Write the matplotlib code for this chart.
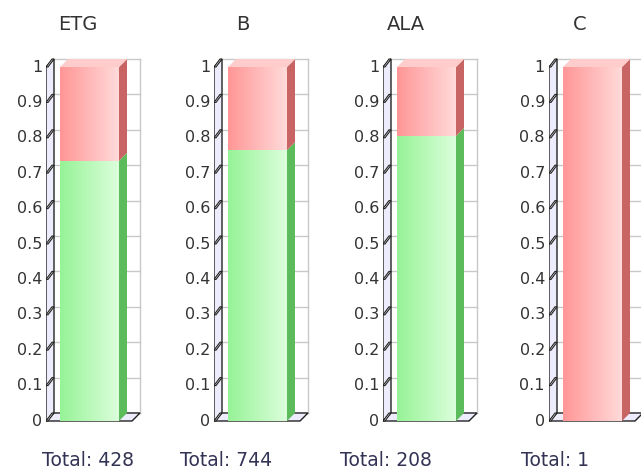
import numpy as np
import matplotlib
matplotlib.use('Agg')
import matplotlib.pyplot as plt
from matplotlib.patches import Polygon
from matplotlib.colors import LinearSegmentedColormap

# data
groups = ['ETG', 'B', 'ALA', 'C']
totals = [428, 744, 208, 1]
green_share = [0.735, 0.765, 0.805, 0.0]
red_share = [1 - g for g in green_share]
ticks = [0, 0.1, 0.2, 0.3, 0.4, 0.5, 0.6, 0.7, 0.8, 0.9, 1]
tick_labels = ['0', '0.1', '0.2', '0.3', '0.4', '0.5', '0.6', '0.7', '0.8', '0.9', '1']

# layout (pixels)
W_PX, H_PX = 641, 469
axis_left = [46, 214, 383, 549]
title_x = [78, 243, 406, 580]
total_x = [88, 226, 386, 555]
px_per_unit = 354.0
zero_px = 421.0
DX = 8                      # depth in x (px units)
DY = 8 / px_per_unit        # depth in y (data units)
WALL = 94
BAR_X0, BAR_W = 14, 59
YMIN, YMAX = -0.03, 1.07

green_cmap = LinearSegmentedColormap.from_list('g', ['#96f396', '#dcfedc'])
red_cmap = LinearSegmentedColormap.from_list('r', ['#ff9696', '#ffdada'])
grad = np.linspace(0, 1, 256).reshape(1, -1)

fig = plt.figure(figsize=(W_PX / 100, H_PX / 100), dpi=100)
fig.patch.set_facecolor('white')

for i, name in enumerate(groups):
    bottom_px = zero_px + (-YMIN) * px_per_unit
    h_px = (YMAX - YMIN) * px_per_unit
    ax = fig.add_axes([axis_left[i] / W_PX, (H_PX - bottom_px) / H_PX,
                       100 / W_PX, h_px / H_PX])
    ax.set_xlim(0, 100)
    ax.set_ylim(YMIN, YMAX)
    ax.axis('off')

    # back wall + gridlines
    ax.add_patch(Polygon([(DX, DY), (WALL, DY), (WALL, 1 + DY), (DX, 1 + DY)],
                         closed=True, facecolor='white', edgecolor='none', zorder=0))
    for t in ticks:
        ax.plot([DX, WALL], [t + DY, t + DY], color='#c8c8c8', lw=1, zorder=1)
    ax.plot([WALL, WALL], [DY, 1 + DY], color='#c8c8c8', lw=1, zorder=1)

    # left wall
    ax.add_patch(Polygon([(0, 0), (DX, DY), (DX, 1 + DY), (0, 1)], closed=True,
                         facecolor='#ececfc', edgecolor='#222222', lw=1, zorder=2))
    # floor
    ax.add_patch(Polygon([(0, 0), (WALL - DX, 0), (WALL, DY), (DX, DY)], closed=True,
                         facecolor='#ececfc', edgecolor='#222222', lw=1, zorder=2))

    # tick markers + labels
    for t, lab in zip(ticks, tick_labels):
        ax.add_patch(Polygon([(0, t), (DX - 2, t + DY), (DX, t + DY), (2, t)],
                             closed=True, facecolor='white', edgecolor='#222222',
                             lw=0.8, zorder=3))
        ax.text(-4, t, lab, ha='right', va='center', fontsize=11.5, color='#333333')

    # bars
    g, r = green_share[i], red_share[i]
    bars_g = ax.bar(BAR_X0, g, width=BAR_W, align='edge', color='none', zorder=4)
    bars_r = ax.bar(BAR_X0, r, width=BAR_W, bottom=g, align='edge', color='none', zorder=4)
    x1 = BAR_X0 + BAR_W
    for bars, cmap, val, base, side_c in [(bars_g, green_cmap, g, 0, '#5cbc5c'),
                                          (bars_r, red_cmap, r, g, '#c86464')]:
        if val <= 0:
            continue
        p = bars.patches[0]
        im = ax.imshow(grad, cmap=cmap, aspect='auto', zorder=4,
                       extent=[BAR_X0, x1, base, base + val])
        im.set_clip_path(p)
        ax.add_patch(Polygon([(x1, base), (x1 + DX, base + DY),
                              (x1 + DX, base + val + DY), (x1, base + val)],
                             closed=True, facecolor=side_c, edgecolor='none', zorder=4))
    top_c = '#ffcccc' if r > 0 else '#c8f5c8'
    ax.add_patch(Polygon([(BAR_X0, 1), (BAR_X0 + DX, 1 + DY), (x1 + DX, 1 + DY), (x1, 1)],
                         closed=True, facecolor=top_c, edgecolor='none', zorder=4))
    ax.set_xlim(0, 100)
    ax.set_ylim(YMIN, YMAX)

    fig.text(title_x[i] / W_PX, 1 - 25 / H_PX, name, ha='center', va='center',
             fontsize=14, color='#333333')
    fig.text(total_x[i] / W_PX, 1 - 460 / H_PX, 'Total: %d' % totals[i],
             ha='center', va='center', fontsize=13.5, color='#333355')

fig.savefig('out.png', dpi=100, facecolor='white')
